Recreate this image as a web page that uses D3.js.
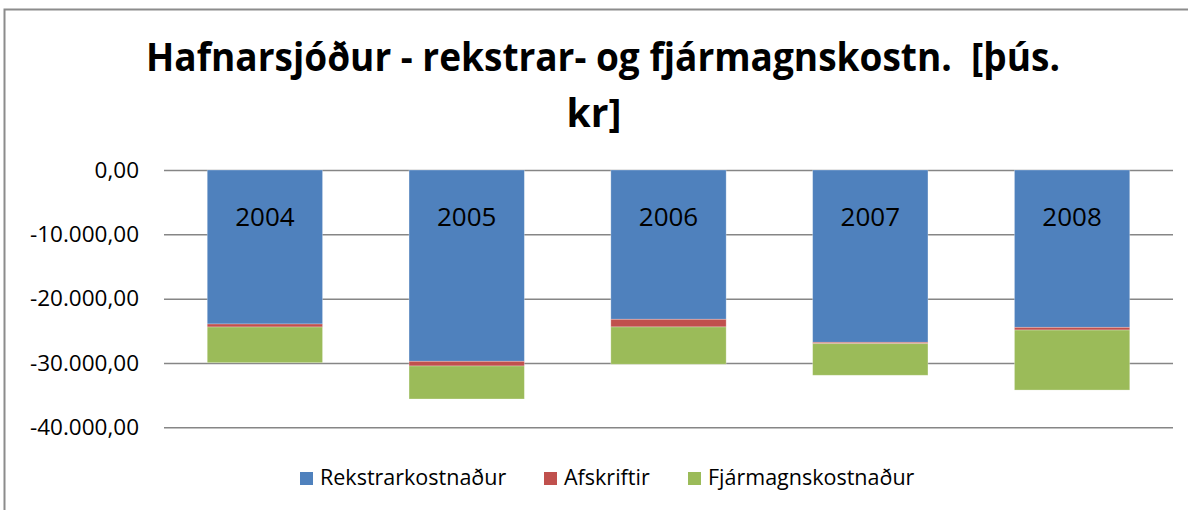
<!DOCTYPE html>
<html>
<head>
<meta charset="utf-8">
<script src="https://cdn.jsdelivr.net/npm/d3@7"></script>
<style>
  body { margin: 0; background: #fff; }
  svg { display: block; font-family: "Open Sans", "Noto Sans", sans-serif; }
</style>
</head>
<body>
<svg id="chart" width="1188" height="510"></svg>
<script>
// data
var years = ["2004", "2005", "2006", "2007", "2008"];
var seriesNames = ["Rekstrarkostnaður", "Afskriftir", "Fjármagnskostnaður"];
var rekstrar = [-23940, -29740, -23210, -26790, -24460];
var afskriftir = [-470, -730, -1190, -210, -420];
var fjarmagn = [-5550, -5130, -5800, -4910, -9330];
var yTicks = [0, -10000, -20000, -30000, -40000];
var colors = ["#4F81BD", "#C0504D", "#9BBB59"];

(function () {
    var rows = years.map(function (y, i) {
        return { year: y, "Rekstrarkostnaður": rekstrar[i], "Afskriftir": afskriftir[i], "Fjármagnskostnaður": fjarmagn[i] };
    });

    var svg = d3.select("#chart");
    var plotLeft = 164, plotRight = 1173, plotTop = 170, plotBottom = 427.3;

    // frame of the chart area
    svg.append("path")
        .attr("d", "M4.5,510 V9.5 H1188")
        .attr("fill", "none")
        .attr("stroke", "#8c8c8c")
        .attr("stroke-width", 2);

    // title, squeezed to the width of the original
    var title = svg.append("g").attr("font-weight", "bold").attr("fill", "#000");
    title.append("text")
        .attr("x", 146).attr("y", 71)
        .attr("font-size", 39)
        .attr("textLength", 914)
        .attr("lengthAdjust", "spacingAndGlyphs")
        .style("white-space", "pre")
        .text("Hafnarsjóður - rekstrar- og fjármagnskostn.  [þús.");
    title.append("text")
        .attr("x", 594).attr("y", 127)
        .attr("font-size", 39)
        .attr("text-anchor", "middle")
        .text("kr]");

    var x = d3.scaleBand().domain(years).range([plotLeft, plotRight])
        .paddingInner(0.75 / 1.75).paddingOuter(0.75 / 3.5);
    var y = d3.scaleLinear().domain([-40000, 0]).range([plotBottom, plotTop]);

    var fmt = function (v) {
        var s = d3.format(",.2f")(v);
        return s.replace(/,/g, "#").replace(".", ",").replace(/#/g, ".").replace("\u2212", "-");
    };

    // gridlines and tick labels
    var axis = d3.axisLeft(y).tickValues(yTicks).tickSize(-(plotRight - plotLeft)).tickPadding(25).tickFormat(fmt);
    var gAxis = svg.append("g").attr("transform", "translate(" + plotLeft + ",0)").call(axis);
    gAxis.attr("font-size", null).attr("font-family", null);
    gAxis.select(".domain").remove();
    gAxis.selectAll(".tick line").attr("stroke", "#868686").attr("stroke-width", 1.5);
    gAxis.selectAll(".tick text")
        .style("font-size", "22.5px")
        .attr("fill", "#000")
        .attr("x", -25);

    // stacked bars (values are negative, so d[1] is the upper edge)
    var stack = d3.stack().keys(seriesNames).offset(d3.stackOffsetDiverging);
    var layers = stack(rows);

    svg.append("g").selectAll("g")
        .data(layers)
        .join("g")
        .attr("fill", function (d, i) { return colors[i]; })
        .selectAll("rect")
        .data(function (d) { return d; })
        .join("rect")
        .attr("x", function (d) { return x(d.data.year); })
        .attr("width", x.bandwidth())
        .attr("y", function (d) { return y(d[1]); })
        .attr("height", function (d) { return y(d[0]) - y(d[1]); })
        .attr("stroke", "#ffffff")
        .attr("stroke-opacity", 0.35)
        .attr("stroke-width", 0.8);

    // category labels inside bars
    svg.append("g").selectAll("text")
        .data(years)
        .join("text")
        .attr("x", function (d) { return x(d) + x.bandwidth() / 2; })
        .attr("y", 226)
        .attr("text-anchor", "middle")
        .attr("font-size", 26)
        .attr("fill", "#000")
        .text(function (d) { return d; });

    // legend
    var legendX = [300, 544, 688];
    var legend = svg.append("g").selectAll("g")
        .data(seriesNames)
        .join("g")
        .attr("transform", function (d, i) { return "translate(" + legendX[i] + ",472)"; });
    legend.append("rect")
        .attr("width", 13).attr("height", 13)
        .attr("fill", function (d, i) { return colors[i]; });
    legend.append("text")
        .attr("x", 20).attr("y", 13)
        .attr("font-size", 21.5)
        .attr("fill", "#000")
        .text(function (d) { return d; });
})();
</script>
</body>
</html>
